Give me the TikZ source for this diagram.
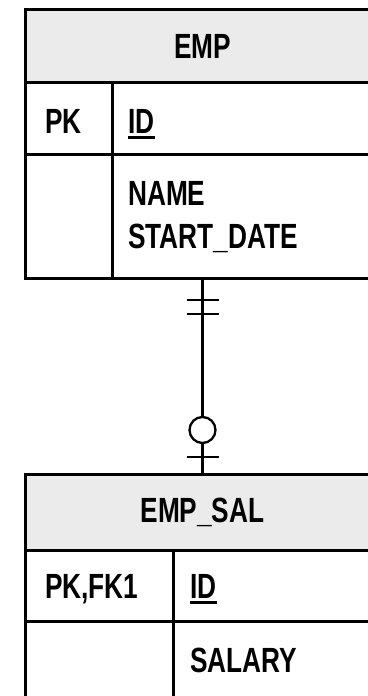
\documentclass[tikz,border=0pt]{standalone}
\usepackage{fontspec}
\newfontfamily\erfont[FakeStretch=0.75]{Liberation Sans}
\usepackage{tikz}

\begin{document}
\begin{tikzpicture}[x=1pt, y=-1pt,
  every node/.style={inner sep=0pt},
  erfnt/.style={font=\erfont\fontsize{35}{42}\selectfont\bfseries},
  cell/.style={draw, line width=3pt, anchor=north west},
  head/.style={cell, erfnt, fill=black!8, minimum width=354pt, minimum height=#1},
  txt/.style={erfnt, anchor=base west},
  conn/.style={line width=2.3pt}]
  \useasboundingbox (0,0) rectangle (367,696);

  \node[head=73pt] (emphead) at (24,8) {EMP};
  \node[cell, minimum width=87pt, minimum height=72pt] (emppk) at (24,81) {};
  \node[cell, minimum width=267pt, minimum height=72pt] (empid) at (111,81) {};
  \node[cell, minimum width=87pt, minimum height=124pt] (empfk) at (24,153) {};
  \node[cell, minimum width=267pt, minimum height=124pt] (empatt) at (111,153) {};
  \node[txt] (emppktxt) at (45,133) {PK};
  \node[txt] (empidtxt) at (128,133) {ID};
  \node[txt] (empname) at (128,205) {NAME};
  \node[txt] (empstart) at (128,248) {START\_DATE};
  \draw[line width=3pt] ([yshift=-4pt]empidtxt.base west) -- ([yshift=-4pt]empidtxt.base east);

  \node[head=76pt] (salhead) at (24,473) {EMP\_SAL};
  \node[cell, minimum width=148pt, minimum height=71pt] (salpk) at (24,549) {};
  \node[cell, minimum width=206pt, minimum height=71pt] (salid) at (172,549) {};
  \node[cell, minimum width=148pt, minimum height=100pt] (salfk) at (24,620) {};
  \node[cell, minimum width=206pt, minimum height=100pt] (salatt) at (172,620) {};
  \node[txt] (salpktxt) at (45,598) {PK,FK1};
  \node[txt] (salidtxt) at (190,598) {ID};
  \node[txt] (salsalary) at (190,672) {SALARY};
  \draw[line width=3pt] ([yshift=-4pt]salidtxt.base west) -- ([yshift=-4pt]salidtxt.base east);

  \draw[conn] (emphead |- empatt.south) coordinate (one) -- (salhead.north) coordinate (zero);
  \foreach \d in {20,34}
    \draw[conn] ([shift={(-16,\d)}]one) -- ++(32,0);
  \draw[conn] ([shift={(-16,-16)}]zero) -- ++(32,0);
  \draw[conn, fill=white] ([yshift=43pt]zero) circle[radius=13];
\end{tikzpicture}
\end{document}
